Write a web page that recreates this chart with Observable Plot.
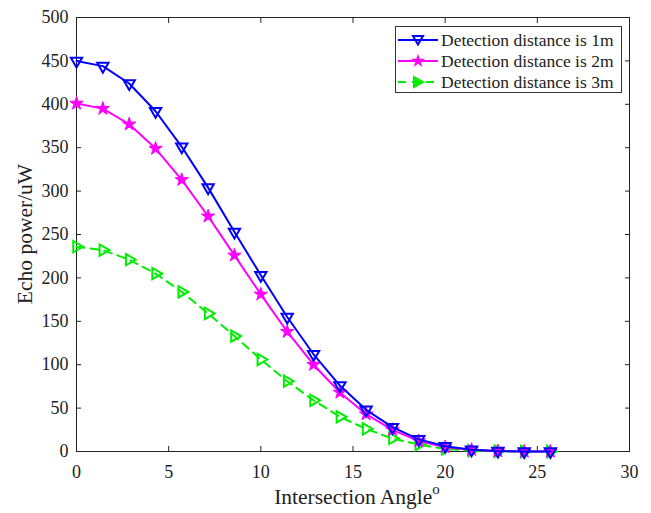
<!DOCTYPE html>
<html><head><meta charset="utf-8">
<script src="https://cdn.jsdelivr.net/npm/d3@7"></script>
<script src="https://cdn.jsdelivr.net/npm/@observablehq/plot@0.6"></script>
<style>
body{margin:0;background:#fff;}
#wrap{position:relative;width:651px;height:513px;font-family:'Liberation Serif',serif;}
#wrap svg text{font-family:'Liberation Serif',serif;}
#legend{position:absolute;left:395px;top:26px;width:227px;height:67px;border:1px solid #333;background:#fff;box-sizing:border-box;font-family:'Liberation Serif',serif;}
.li{position:absolute;left:0;height:22px;display:flex;align-items:center;font-size:17.5px;color:#222;white-space:nowrap;}
.li svg{margin-left:1px;margin-right:2px;}
</style>
</head><body>
<div id="wrap"></div>
<script>
const angles = [0,1.43,2.86,4.29,5.71,7.14,8.57,10,11.43,12.86,14.29,15.71,17.14,18.57,20,21.43,22.86,24.29,25.71];
const power1m = [450,444,424,392,351,304,253,203,155,112,76,48,28,14,6,2,0.5,0,0];
const power2m = [401,395,377,349,313,271,226,181,138,100,68,43,25,12,5,2,0.5,0,0];
const power3m = [236,232,221,205,184,159,133,106,81,59,40,26,15,8,3,1,0.3,0,0];
const seriesNames = ["Detection distance is 1m","Detection distance is 2m","Detection distance is 3m"];
const xTicks = [0,5,10,15,20,25,30];
const yTicks = [0,50,100,150,200,250,300,350,400,450,500];

const d1 = angles.map((a,i)=>({x:a,y:power1m[i]}));
const d2 = angles.map((a,i)=>({x:a,y:power2m[i]}));
const d3s = angles.map((a,i)=>({x:a,y:power3m[i]}));

const font = "Liberation Serif";
const plot = Plot.plot({
  width:651, height:513,
  marginLeft:76, marginRight:22, marginTop:17, marginBottom:62,
  style:{fontFamily:font, fontSize:"18px", color:"#222", background:"#fff"},
  x:{domain:[0,30]},
  y:{domain:[0,500]},
  marks:[
    Plot.frame({stroke:"#222", strokeWidth:1}),
    Plot.axisX({ticks:xTicks, tickSize:-5, tickPadding:19, label:null, stroke:"#222", fontSize:18, fontFamily:font}),
    Plot.axisX({anchor:"top", ticks:xTicks, tickSize:-5, text:null, label:null, stroke:"#222"}),
    Plot.axisY({ticks:yTicks, tickSize:-5, tickPadding:13, label:null, stroke:"#222", fontSize:18, fontFamily:font}),
    Plot.axisY({anchor:"right", ticks:yTicks, tickSize:-5, text:null, label:null, stroke:"#222"}),
    Plot.line(d3s,{x:"x",y:"y",stroke:"#00ee00",strokeWidth:2,strokeDasharray:"8,6"}),
    Plot.dot(d3s,{x:"x",y:"y",symbol:"triangle",rotate:90,r:4.2,stroke:"#00ee00",strokeWidth:2,fill:"none"}),
    Plot.line(d2,{x:"x",y:"y",stroke:"#ff00ff",strokeWidth:2}),
    Plot.dot(d2,{x:"x",y:"y",symbol:"star",r:4.2,fill:"#ff00ff",stroke:"#ff00ff",strokeWidth:1}),
    Plot.line(d1,{x:"x",y:"y",stroke:"#0000ff",strokeWidth:2}),
    Plot.dot(d1,{x:"x",y:"y",symbol:"triangle",rotate:180,r:4.2,stroke:"#0000ff",strokeWidth:2,fill:"none"})
  ]
});
const wrap = document.getElementById("wrap");
wrap.appendChild(plot);
const svg = d3.select(plot);
svg.append("text").attr("x",-234).attr("y",32).attr("transform","rotate(-90)")
  .attr("text-anchor","middle").attr("font-size","21.5px").attr("fill","#222").attr("font-family",font)
  .text("Echo power/uW");
const xl = svg.append("text").attr("x",357).attr("y",504).attr("text-anchor","middle")
  .attr("font-size","21.5px").attr("fill","#222").attr("font-family",font);
xl.append("tspan").text("Intersection Angle");
xl.append("tspan").attr("dy","-10").attr("font-size","15px").text("o");

// legend
const leg = document.createElement("div");
leg.id="legend";
const samples = [
  `<svg width="42" height="14"><line x1="1" y1="7" x2="41" y2="7" stroke="#0000ff" stroke-width="2"/><path d="M16,3 L26,3 L21,11.5 Z" fill="none" stroke="#0000ff" stroke-width="2"/></svg>`,
  `<svg width="42" height="14"><line x1="1" y1="7" x2="41" y2="7" stroke="#ff00ff" stroke-width="2"/></svg>`,
  `<svg width="42" height="14"><line x1="1" y1="7" x2="41" y2="7" stroke="#00ee00" stroke-width="2" stroke-dasharray="8,6"/><path d="M17,2 L26,7 L17,12 Z" fill="#00ee00" stroke="#00ee00" stroke-width="2"/></svg>`
];
seriesNames.forEach((n,i)=>{
  const d=document.createElement("div");d.className="li";d.style.top=(i*21+2)+"px";
  d.innerHTML=samples[i]+`<span>${n}</span>`;leg.appendChild(d);
});
wrap.appendChild(leg);
const starSvg = d3.select(leg.children[1]).select("svg");
starSvg.append("path").attr("transform","translate(21,7)").attr("d",d3.symbol(d3.symbolStar,60)()).attr("fill","#ff00ff");
</script>
</body></html>
